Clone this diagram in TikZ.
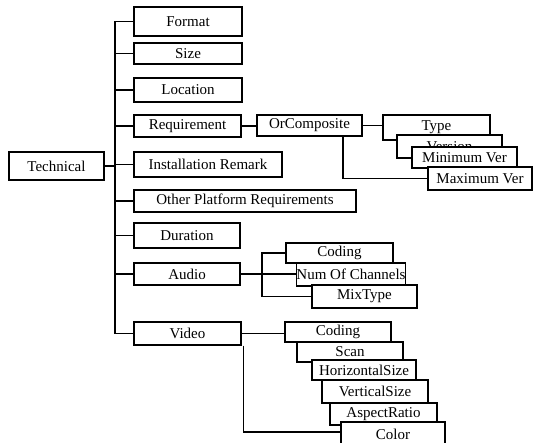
\documentclass[tikz,border=0pt]{standalone}
\usepackage{fontspec}
\setmainfont{Liberation Serif}
\begin{document}
\begin{tikzpicture}[x=1pt,y=-1pt,
  box/.style={draw, fill=white, line width=1.4pt, inner sep=0pt, font=\fontsize{15}{16}\selectfont},
  link/.style={line width=1.4pt}]
\clip (0,0) rectangle (533,442);
\fill[white] (0,0) rectangle (533,442);
% main column
\node[box, minimum width=95, minimum height=28] (tech) at (56.5,166) {Technical};
\node[box, minimum width=108, minimum height=29] (format) at (188,21.5) {Format};
\node[box, minimum width=108, minimum height=21] (size) at (188,53.5) {Size};
\node[box, minimum width=108, minimum height=24] (location) at (188,90) {Location};
\node[box, minimum width=107, minimum height=22] (req) at (187.5,126) {Requirement};
\node[box, minimum width=148, minimum height=25] (install) at (208,164.5) {Installation Remark};
\node[box, minimum width=222, minimum height=22] (other) at (245,201) {Other Platform Requirements};
\node[box, minimum width=106, minimum height=25] (duration) at (187,235.5) {Duration};
\node[box, minimum width=106, minimum height=22] (audio) at (187,274) {Audio};
\node[box, minimum width=107, minimum height=23] (video) at (187.5,333.5) {Video};
% trunk
\coordinate (tr) at (115,0);
\draw[link] (format.west) -| (tr |- video.west) -- (video.west);
\draw[link] (tech.east) -- (tech.east -| tr);
\foreach \n in {size,location,req,install,other,duration,audio}
  \draw[link] (\n.west) -- (\n.west -| tr);
% requirement branch
\draw[link] (req.east) -- (req.east -| 257,0);
\node[box, minimum width=105, minimum height=21] (orcomp) at (309.5,125.5) {OrComposite};
\draw[link] (orcomp.east) -- (orcomp.east -| 383,0);
\draw[link] ([xshift=33.5]orcomp.south) |- (480,178.5);
\node[box, minimum width=107, minimum height=25] (type) at (436.5,127.5) {Type};
\node[box, minimum width=105, minimum height=23] (version) at (449.5,146.5) {Version};
\node[box, minimum width=105, minimum height=21] (minver) at (464.5,157.5) {Minimum Ver};
\node[box, minimum width=104, minimum height=23] (maxver) at (480,178.5) {Maximum Ver};
% audio branch
\coordinate (ab) at (262,0);
\node[box, minimum width=107, minimum height=20] (acoding) at (339.5,253) {Coding};
\node[box, minimum width=106, minimum height=23] (numch) at (351,274.5) {Num Of Channels};
\node[box, minimum width=105, minimum height=23] (mixtype) at (364.5,296.5) {MixType};
\draw[link] (audio.east) -- (audio.east -| numch.west);
\draw[link] (acoding.west) -| (ab |- mixtype.west) -- (mixtype.west);
% video branch
\draw[link] (video.east) -- (video.east -| 285,0);
\draw[link] ([xshift=2]video.south east) |- (341,432);
\node[box, minimum width=106, minimum height=20] (vcoding) at (338,332) {Coding};
\node[box, minimum width=106, minimum height=20] (scan) at (350,352) {Scan};
\node[box, minimum width=104, minimum height=20] (hsize) at (364,370) {HorizontalSize};
\node[box, minimum width=106, minimum height=23] (vsize) at (375,391.5) {VerticalSize};
\node[box, minimum width=107, minimum height=22] (aspect) at (383.5,414) {AspectRatio};
\node[box, minimum width=104, minimum height=24] (color) at (393,434) {Color};
\end{tikzpicture}
\end{document}
